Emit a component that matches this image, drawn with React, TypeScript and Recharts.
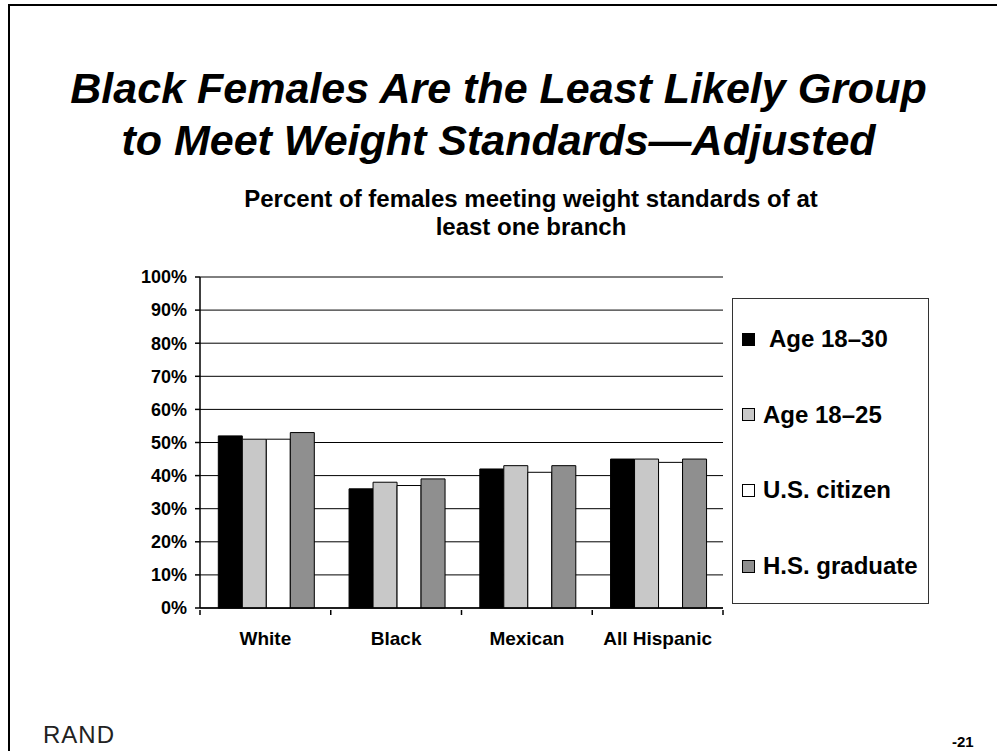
import React from 'react';
import { BarChart, Bar, XAxis, YAxis, CartesianGrid } from 'recharts';

const groups = ['White', 'Black', 'Mexican', 'All Hispanic'];
const age1830 = [52, 36, 42, 45];
const age1825 = [51, 38, 43, 45];
const usCitizen = [51, 37, 41, 44];
const hsGraduate = [53, 39, 43, 45];

const seriesKeys = ['age1830', 'age1825', 'usCitizen', 'hsGraduate'];
const seriesNames = ['Age 18–30', 'Age 18–25', 'U.S. citizen', 'H.S. graduate'];
const seriesColors = ['#000000', '#c8c8c8', '#ffffff', '#8f8f8f'];

const yTicks = [0, 10, 20, 30, 40, 50, 60, 70, 80, 90, 100];

const data = groups.map((name, i) => ({
  name,
  age1830: age1830[i],
  age1825: age1825[i],
  usCitizen: usCitizen[i],
  hsGraduate: hsGraduate[i],
}));

const FONT = '"Liberation Sans", Arial, Helvetica, sans-serif';

const CHART_W = 997;
const CHART_H = 751;
const MARGIN = { top: 277, right: 274, bottom: 103, left: 0 };
const Y_AXIS_W = 200;
const X_AXIS_H = 40;
const PLOT_W = CHART_W - MARGIN.left - MARGIN.right - Y_AXIS_W;

// category label in the middle, small tick marks on the group boundaries
const GroupTick = (props: any) => {
  const { x, y, payload, index } = props;
  const half = PLOT_W / groups.length / 2;
  const isLast = index === groups.length - 1;
  return (
    <g>
      <line x1={x - half} x2={x - half} y1={y} y2={y + 5} stroke="#000" strokeWidth={1.5} />
      {isLast && (
        <line x1={x + half} x2={x + half} y1={y} y2={y + 5} stroke="#000" strokeWidth={1.5} />
      )}
      <text
        x={x}
        y={y + 22}
        dy="0.71em"
        textAnchor="middle"
        fill="#000"
        fontSize={19}
        fontWeight="bold"
        fontFamily={FONT}
      >
        {payload.value}
      </text>
    </g>
  );
};

const ChartLegend = () => (
  <div
    style={{
      position: 'absolute',
      left: 732,
      top: 298,
      width: 197,
      height: 306,
      border: '1.5px solid #333',
      boxSizing: 'border-box',
      background: '#fff',
    }}
  >
    {seriesNames.map((name, i) => (
      <div
        key={name}
        style={{
          position: 'absolute',
          left: 9,
          top: 40 + i * 75.7 - 14,
          height: 28,
          display: 'flex',
          alignItems: 'center',
          whiteSpace: 'nowrap',
          fontFamily: FONT,
          fontWeight: 'bold',
          fontSize: 24,
          color: '#000',
        }}
      >
        <span
          style={{
            display: 'inline-block',
            width: 11,
            height: 11,
            background: seriesColors[i],
            border: '1px solid #000',
            marginRight: i === 0 ? 14 : 8,
          }}
        />
        {name}
      </div>
    ))}
  </div>
);

const App = () => {
  return (
    <div
      style={{
        position: 'absolute',
        left: 0,
        top: 0,
        width: 997,
        height: 751,
        background: '#fff',
        overflow: 'hidden',
        fontFamily: FONT,
      }}
    >
      {/* slide frame */}
      <div
        style={{
          position: 'absolute',
          left: 8,
          top: 4,
          width: 989,
          height: 747,
          borderTop: '2px solid #000',
          borderLeft: '2px solid #000',
          boxSizing: 'border-box',
        }}
      />

      <div
        style={{
          position: 'absolute',
          left: 0,
          top: 62,
          width: 997,
          textAlign: 'center',
          fontSize: 43,
          lineHeight: '52px',
          fontWeight: 'bold',
          fontStyle: 'italic',
          whiteSpace: 'nowrap',
        }}
      >
        Black Females Are the Least Likely Group
        <br />
        to Meet Weight Standards—Adjusted
      </div>

      <div
        style={{
          position: 'absolute',
          left: 231,
          top: 185,
          width: 600,
          textAlign: 'center',
          fontSize: 24,
          lineHeight: '28px',
          fontWeight: 'bold',
          whiteSpace: 'nowrap',
        }}
      >
        Percent of females meeting weight standards of at
        <br />
        least one branch
      </div>

      <div style={{ position: 'absolute', left: 0, top: 0 }}>
        <BarChart
          width={CHART_W}
          height={CHART_H}
          data={data}
          margin={MARGIN}
          barGap={0}
          barCategoryGap="14%"
        >
          <CartesianGrid vertical={false} stroke="#000" strokeWidth={1} />
          <XAxis
            dataKey="name"
            height={X_AXIS_H}
            axisLine={{ stroke: '#000', strokeWidth: 1.5 }}
            tickLine={false}
            tickSize={0}
            interval={0}
            tick={<GroupTick />}
          />
          <YAxis
            width={Y_AXIS_W}
            domain={[0, 100]}
            ticks={yTicks}
            interval={0}
            tickFormatter={(v: number) => `${v}%`}
            axisLine={{ stroke: '#000', strokeWidth: 1.5 }}
            tickLine={{ stroke: '#000', strokeWidth: 1.5 }}
            tickSize={5}
            tickMargin={8}
            tick={{ fill: '#000', fontSize: 18, fontWeight: 'bold', fontFamily: FONT }}
          />
          {seriesKeys.map((key, i) => (
            <Bar
              key={key}
              dataKey={key}
              name={seriesNames[i]}
              fill={seriesColors[i]}
              stroke="#000"
              strokeWidth={1}
              isAnimationActive={false}
            />
          ))}
        </BarChart>
      </div>

      <ChartLegend />

      <div
        style={{
          position: 'absolute',
          left: 43,
          top: 723,
          fontSize: 24,
          lineHeight: '24px',
          letterSpacing: 1,
          color: '#222',
        }}
      >
        RAND
      </div>
      <div
        style={{
          position: 'absolute',
          left: 952,
          top: 734,
          fontSize: 15,
          lineHeight: '15px',
          fontWeight: 'bold',
        }}
      >
        -21
      </div>
    </div>
  );
};

export default App;
